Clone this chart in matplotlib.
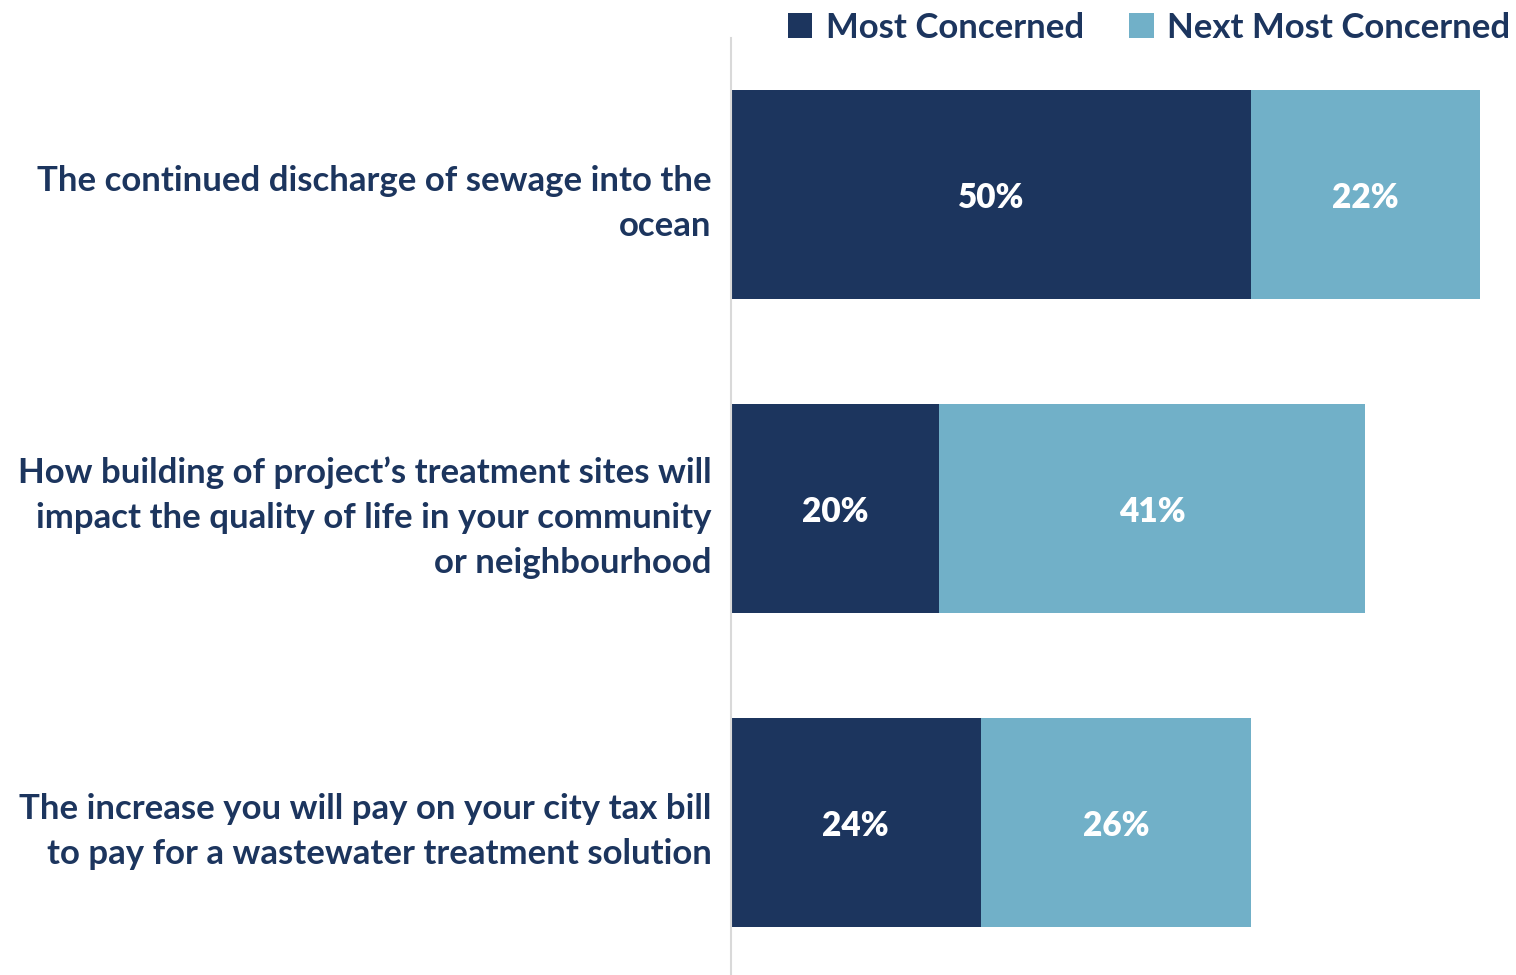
import matplotlib.pyplot as plt
import numpy as np

plt.rcParams['font.family'] = ['Lato', 'DejaVu Sans']

# data
categories = [
    "The continued discharge of sewage into the\nocean",
    "How building of project\u2019s treatment sites will\nimpact the quality of life in your community\nor neighbourhood",
    "The increase you will pay on your city tax bill\nto pay for a wastewater treatment solution",
]
most_concerned = [50, 20, 24]
next_most_concerned = [22, 41, 26]
series_names = ["Most Concerned", "Next Most Concerned"]

navy = "#1C355E"
light = "#71B0C8"

fig = plt.figure(figsize=(15.16, 9.75), dpi=100)
ax = fig.add_axes([731 / 1516, 0, 785 / 1516, 937 / 975])

y = np.arange(len(categories))
h = 0.666
b1 = ax.barh(y, most_concerned, height=h, color=navy, label=series_names[0])
b2 = ax.barh(y, next_most_concerned, left=most_concerned, height=h, color=light, label=series_names[1])

for bars in (b1, b2):
    for r in bars:
        w = r.get_width()
        ax.text(r.get_x() + w / 2, r.get_y() + r.get_height() / 2 + 0.01, f"{w:.0f}%",
                ha='center', va='center', color='white', fontsize=24, fontweight='heavy')

ax.set_xlim(0, 785 / 10.4)
ax.set_ylim(2.486, -0.498)
ax.set_yticks(y)
ax.set_yticklabels(categories, fontsize=25, fontweight='bold', color=navy,
                   linespacing=1.5)
ax.tick_params(axis='y', length=0, pad=14)
ax.set_xticks([])
for s in ['top', 'right', 'bottom']:
    ax.spines[s].set_visible(False)
ax.spines['left'].set_color('#D9D9D9')
ax.spines['left'].set_linewidth(1.5)

fig.legend(handles=[b1, b2], loc='upper right', bbox_to_anchor=(1.017, 1.02), ncol=2,
           frameon=False, prop={'weight': 'bold', 'size': 25},
           labelcolor=navy, handlelength=0.7, handleheight=0.7, handletextpad=0.4,
           columnspacing=1.3)

fig.savefig("out.png", dpi=100)
